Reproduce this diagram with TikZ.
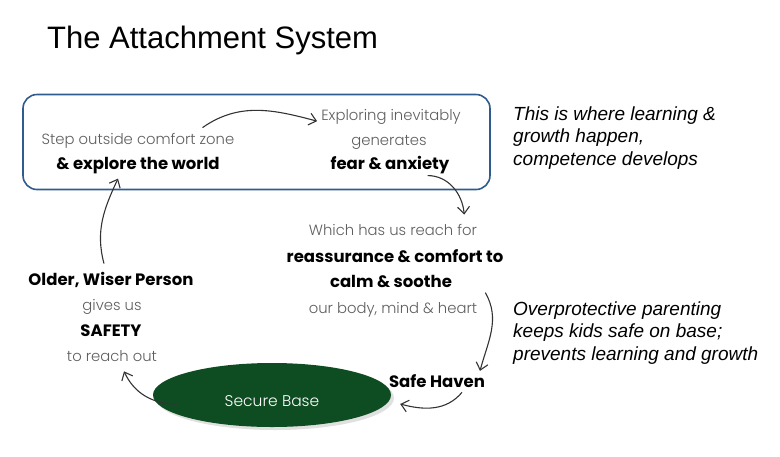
\documentclass[tikz,border=0pt]{standalone}
\usepackage{fontspec}
\setmainfont{Liberation Sans}
\newfontfamily\lightfont{Poppins Light}
\newfontfamily\boldfont{Poppins}[UprightFont=* Bold]
\usepackage{tikz}
\usetikzlibrary{arrows.meta}
\usetikzlibrary{shapes.geometric}

\definecolor{boxblue}{HTML}{2F5B8E}
\definecolor{basegreen}{HTML}{0E4C22}
\definecolor{thingray}{HTML}{5E5E5E}

\tikzset{
    thintxt/.style={inner sep=0pt, anchor=base, text=thingray, font=\lightfont\fontsize{14.8}{17}\selectfont},
    boldtxt/.style={inner sep=0pt, anchor=base, text=black, font=\boldfont\fontsize{16.5}{19}\selectfont},
    notetxt/.style={inner sep=0pt, anchor=base west, align=left, font=\itshape\fontsize{19}{22.5}\selectfont},
    curvearr/.style={draw=black!80, line width=1.1pt, -{Straight Barb[length=7pt, width=12pt]}}
}

\begin{document}
\begin{tikzpicture}[x=1pt, y=-1pt]
    \useasboundingbox (0,0) rectangle (780,456);
    \node[inner sep=0pt, anchor=base west, font=\fontsize{31}{36}\selectfont] (title) at (47,48) {The Attachment System};

    % exploring box
    \node[draw=boxblue, line width=1.6pt, rounded corners=14pt, minimum width=467pt, minimum height=95pt] (zone) at (256.5,142) {};
    \node[thintxt] (step) at (138,144) {Step outside comfort zone};
    \node[boldtxt] (explore) at (138,169) {\& explore the world};
    \node[thintxt] (exploring) at (391,120) {Exploring inevitably};
    \node[thintxt] (generates) at (389,145) {generates};
    \node[boldtxt] (fear) at (390,169) {fear \& anxiety};

    % reaching out
    \node[thintxt] (reach) at (393,235) {Which has us reach for};
    \node[boldtxt] (comfort) at (395,262) {reassurance \& comfort to};
    \node[boldtxt] (soothe) at (391,287) {calm \& soothe};
    \node[thintxt] (heart) at (393,313) {our body, mind \& heart};
    \node[boldtxt] (haven) at (437,387) {Safe Haven};

    % base
    \fill[black!12] (275,398) ellipse (119pt and 32pt);
    \node[ellipse, fill=basegreen, minimum width=238pt, minimum height=64pt, inner sep=0pt] (base) at (272,395) {};
    \node[thintxt, text=white, font=\lightfont\fontsize{15.5}{18}\selectfont] (securebase) at (272,406) {Secure Base};

    \node[boldtxt] (older) at (111,285) {Older, Wiser Person};
    \node[thintxt] (gives) at (112,310) {gives us};
    \node[boldtxt] (safety) at (111,336) {SAFETY};
    \node[thintxt] (reachout) at (112,361) {to reach out};

    % notes
    \node[notetxt] (learning) at (513,165) {This is where learning \&\\growth happen,\\competence develops};
    \node[notetxt] (overprotect) at (513,360) {Overprotective parenting\\keeps kids safe on base;\\prevents learning and growth};

    % cycle
    \draw[curvearr] ([xshift=-32pt, yshift=5pt]step.north east) to[out=35, in=165] ([xshift=-4pt, yshift=3pt]exploring.south west);
    \draw[curvearr] ([xshift=-22pt, yshift=-2pt]fear.south east) to[out=0, in=95] ([xshift=-13pt, yshift=9pt]reach.north east);
    \draw[curvearr] ([xshift=8pt, yshift=9pt]heart.north east) to[out=-60, in=75] ([xshift=43pt, yshift=3pt]haven.north);
    \draw[curvearr] ([xshift=25pt, yshift=-5pt]haven.south) to[out=-130, in=-15] ([xshift=9pt, yshift=-9pt]base.east);
    \draw[curvearr] ([xshift=24pt, yshift=-9pt]base.west) to[out=180, in=-65] ([xshift=12pt, yshift=-10pt]reachout.south);
    \draw[curvearr] ([xshift=-7pt, yshift=8pt]older.north) to[out=105, in=-115] ([xshift=-20pt, yshift=-5pt]explore.south);
\end{tikzpicture}
\end{document}
